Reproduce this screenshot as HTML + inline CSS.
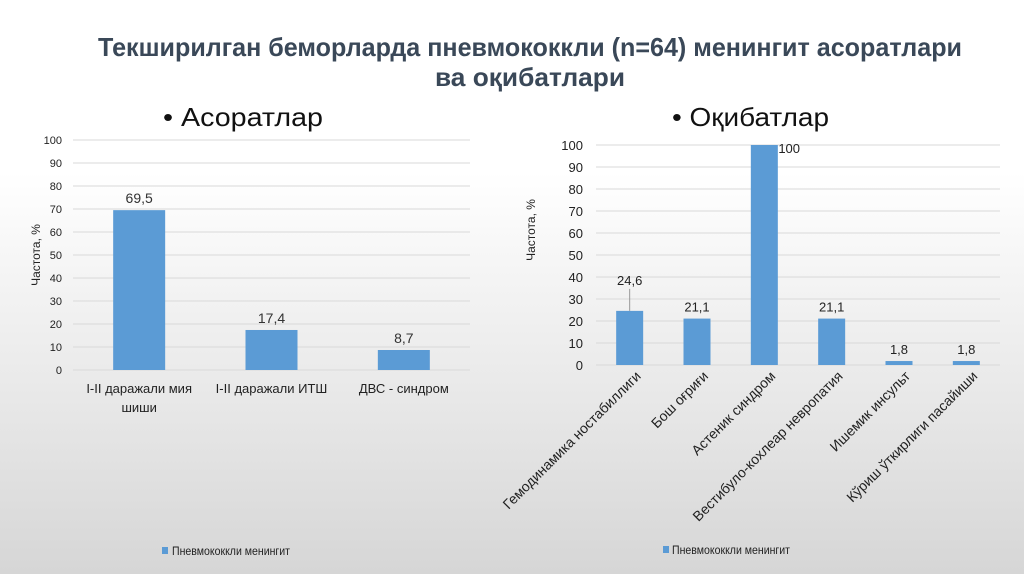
<!DOCTYPE html>
<html><head><meta charset="utf-8"><style>
body{margin:0;width:1024px;height:574px;overflow:hidden}
svg{display:block}
text{font-family:"Liberation Sans",sans-serif}
</style></head><body>
<svg id="s" width="1024" height="574" viewBox="0 0 1024 574">
<defs><linearGradient id="bg" x1="0" y1="0" x2="0" y2="1">
<stop offset="0" stop-color="#ffffff"/><stop offset="0.3" stop-color="#ffffff"/><stop offset="1" stop-color="#d6d6d6"/></linearGradient>
<clipPath id="rc"><rect x="502" y="0" width="522" height="574"/></clipPath></defs>
<rect width="1024" height="574" fill="url(#bg)"/>
<text x="530" y="56" text-anchor="middle" font-size="26" font-weight="bold" fill="#3a4858" textLength="864" lengthAdjust="spacingAndGlyphs">Текширилган беморларда пневмококкли (n=64) менингит асоратлари</text>
<text x="530" y="86" text-anchor="middle" font-size="26" font-weight="bold" fill="#3a4858" textLength="190" lengthAdjust="spacingAndGlyphs">ва оқибатлари</text>
<text x="163" y="126" font-size="26" fill="#111" textLength="160" lengthAdjust="spacingAndGlyphs">• Асоратлар</text>
<text x="672" y="126" font-size="26" fill="#111" textLength="157" lengthAdjust="spacingAndGlyphs">• Оқибатлар</text>
<g id="L"></g><g id="R"></g>
<rect x="162" y="547" width="6" height="7" fill="#5b9bd5"/>
<text x="172" y="555" font-size="12" fill="#222" textLength="118" lengthAdjust="spacingAndGlyphs">Пневмококкли менингит</text>
<rect x="663" y="546" width="6" height="7" fill="#5b9bd5"/>
<text x="672" y="554" font-size="12" fill="#222" textLength="118" lengthAdjust="spacingAndGlyphs">Пневмококкли менингит</text>
</svg>
<script>
const leftCats=[["I-II даражали мия","шиши"],["I-II даражали ИТШ"],["ДВС - синдром"]];
const leftVals=[69.5,17.4,8.7];
const leftLabels=["69,5","17,4","8,7"];
const rightCats=["Гемодинамика ностабиллиги","Бош оғриғи","Астеник синдром","Вестибуло-кохлеар невропатия","Ишемик инсульт","Кўриш ўткирлиги пасайиши"];
const rightVals=[24.6,21.1,100,21.1,1.8,1.8];
const rightLabels=["24,6","21,1","100","21,1","1,8","1,8"];
const yTicks=[0,10,20,30,40,50,60,70,80,90,100];
const NS="http://www.w3.org/2000/svg";
function mk(p,t,a,txt){const e=document.createElementNS(NS,t);for(const k in a)e.setAttribute(k,a[k]);if(txt!=null)e.textContent=txt;p.appendChild(e);return e;}
(function(){
const g=document.getElementById('L');
const x0=73,x1=470,y0=370,y1=140;
const ys=v=>y0+(y1-y0)*v/100;
const bw=(x1-x0)/leftCats.length;
yTicks.forEach(t=>{
 const l=mk(g,'line',{x1:x0,x2:x1,y1:ys(t),y2:ys(t),stroke:'#d9d9d9','stroke-width':1});
 
 
 const tx=mk(g,'text',{x:62,y:ys(t)+4,'text-anchor':'end','font-size':11,fill:'#222'},t);
 
 
});
const yt=mk(g,'text',{x:0,y:0,'font-size':12,fill:'#222','text-anchor':'middle',transform:'translate(40,255) rotate(-90)'},'Частота, %');


leftVals.forEach((v,i)=>{
 const cx=x0+bw*(i+0.5);
 const r=mk(g,'rect',{x:cx-26,y:ys(v),width:52,height:y0-ys(v),fill:'#5b9bd5'});
 
 
 const lb=mk(g,'text',{x:cx,y:ys(v)-7,'text-anchor':'middle','font-size':14,fill:'#333'},leftLabels[i]);
 
 
 leftCats[i].forEach((s,j)=>{
  const c=mk(g,'text',{x:cx,y:393+j*19,'text-anchor':'middle','font-size':13,fill:'#222'},s);
  
  
 });
});
})();
(function(){
const g=document.getElementById('R');
const x0=596,x1=1000,y0=365,y1=145;
const ys=v=>y0+(y1-y0)*v/100;
const bw=(x1-x0)/rightCats.length;
yTicks.forEach(t=>{
 const l=mk(g,'line',{x1:x0,x2:x1,y1:ys(t),y2:ys(t),stroke:'#d9d9d9','stroke-width':1});
 
 
 const tx=mk(g,'text',{x:583,y:ys(t)+5,'text-anchor':'end','font-size':13,fill:'#222'},t);
 
 
});
const yt=mk(g,'text',{x:0,y:0,'font-size':12,fill:'#222','text-anchor':'middle',transform:'translate(535,230) rotate(-90)'},'Частота, %');


const cl=mk(g,'g',{'clip-path':'url(#rc)'});
rightVals.forEach((v,i)=>{
 const cx=x0+bw*(i+0.5);
 const r=mk(g,'rect',{x:cx-13.5,y:ys(v),width:27,height:y0-ys(v),fill:'#5b9bd5'});
 
 
 let lx=cx,ly=ys(v)-7,anc='middle';
 if(v>=95){lx=cx+14;ly=ys(v)+8;anc='start';}
 else if(i===0){ly=ys(v)-26;
  const ln=mk(g,'line',{x1:cx,x2:cx,y1:ys(v),y2:ys(v)-22,stroke:'#999','stroke-width':1});
  
  }
 const lb=mk(g,'text',{x:lx,y:ly,'text-anchor':anc,'font-size':13,fill:'#222'},rightLabels[i]);
 
 
 const c=mk(cl,'text',{x:0,y:0,'text-anchor':'end','font-size':14,fill:'#222',transform:`translate(${cx+12},${y0+12}) rotate(-45)`},rightCats[i]);
 
 
});
})();
</script>
</body></html>
